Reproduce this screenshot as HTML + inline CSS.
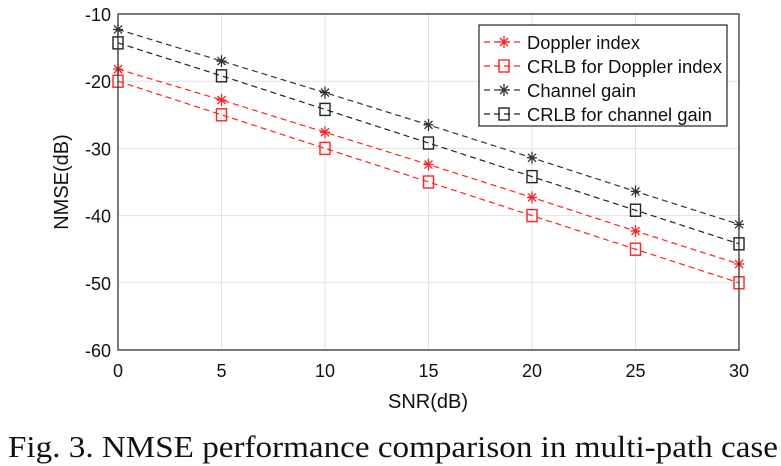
<!DOCTYPE html>
<html><head><meta charset="utf-8"><style>
body{margin:0;background:#fff;}
svg{display:block;font-family:"Liberation Sans",sans-serif;}
</style></head><body>
<svg id="chart" width="781" height="466" viewBox="0 0 781 466">
<g id="grid"></g>
<g id="series"></g>
<rect x="118" y="14" width="621" height="336" fill="none" stroke="#333" stroke-width="1.3"/>
<g id="ticks" font-size="18" fill="#111"></g>
<text x="428" y="408" font-size="20" text-anchor="middle" fill="#111">SNR(dB)</text>
<text transform="translate(68,182) rotate(-90)" font-size="20" text-anchor="middle" fill="#111">NMSE(dB)</text>
<g>
<rect x="479" y="25" width="248" height="101" fill="#fff" stroke="#222" stroke-width="1.2"/>
<g id="legend-entries"></g>
</g>
<text x="8" y="457" font-family="Liberation Serif,serif" font-size="31" textLength="770" lengthAdjust="spacingAndGlyphs" fill="#111">Fig. 3. NMSE performance comparison in multi-path case</text>
</svg>
<script>
const snr=[0,5,10,15,20,25,30];
const xTicks=[0,5,10,15,20,25,30];
const yTicks=[-10,-20,-30,-40,-50,-60];
const dopplerIndex=[-18.2,-22.8,-27.6,-32.4,-37.3,-42.3,-47.2];
const crlbDoppler=[-20,-25,-30,-35,-40,-45,-50];
const channelGain=[-12.3,-17,-21.7,-26.5,-31.4,-36.4,-41.3];
const crlbChannel=[-14.3,-19.2,-24.2,-29.2,-34.2,-39.2,-44.2];
const names=["Doppler index","CRLB for Doppler index","Channel gain","CRLB for channel gain"];
const NS="http://www.w3.org/2000/svg";
const X=v=>118+(v-0)/30*621;
const Y=v=>14+(-10-v)/50*336;
function mk(t,a,p){const e=document.createElementNS(NS,t);for(const k in a)e.setAttribute(k,a[k]);p.appendChild(e);return e;}
const grid=document.getElementById('grid'),ticks=document.getElementById('ticks'),ser=document.getElementById('series'),leg=document.getElementById('legend-entries');
xTicks.forEach(v=>{const l=mk('line',{x1:X(v),x2:X(v),y1:14,y2:350,stroke:'#e2e2e2','stroke-width':1},grid);

const t=mk('text',{x:X(v),y:377,'text-anchor':'middle'},ticks);t.textContent=v;
});
yTicks.forEach(v=>{const l=mk('line',{x1:118,x2:739,y1:Y(v),y2:Y(v),stroke:'#e2e2e2','stroke-width':1},grid);

const t=mk('text',{x:111,y:Y(v)+7,'text-anchor':'end'},ticks);t.textContent=v;
});
function marker(type,x,y,c,p){
 if(type==='sq'){const r=mk('rect',{x:x-5,y:y-6,width:10,height:12,fill:'none',stroke:c,'stroke-width':1.4},p);return r;}
 const g=mk('g',{stroke:c,'stroke-width':1.3},p);
 [[0,-6,0,6],[-5,0,5,0],[-4,-4,4,4],[-4,4,4,-4]].forEach(d=>mk('line',{x1:x+d[0],y1:y+d[1],x2:x+d[2],y2:y+d[3]},g));return g;}
const S=[[dopplerIndex,'#f22','star'],[crlbDoppler,'#f22','sq'],[channelGain,'#333','star'],[crlbChannel,'#222','sq']];
const legLen=[113,195,109,185];
S.forEach((s,i)=>{const pts=s[0].map((v,j)=>X(snr[j])+','+Y(v)).join(' ');
 const pl=mk('polyline',{points:pts,fill:'none',stroke:s[1],'stroke-width':1.2,'stroke-dasharray':'6,4'},ser);
 
 s[0].forEach((v,j)=>{const m=marker(s[2],X(snr[j]),Y(v),s[1],ser);
 });
 const ly=42+i*24;
 const ll=mk('line',{x1:484,x2:522,y1:ly,y2:ly,stroke:s[1],'stroke-width':1.2,'stroke-dasharray':'6,4'},leg);
 
 const lm=marker(s[2],504,ly,s[1],leg);
 
 const t=mk('text',{x:527,y:ly+7,'font-size':18,fill:'#111',textLength:legLen[i],lengthAdjust:'spacingAndGlyphs'},leg);t.textContent=names[i];
 });
</script>
</body></html>
